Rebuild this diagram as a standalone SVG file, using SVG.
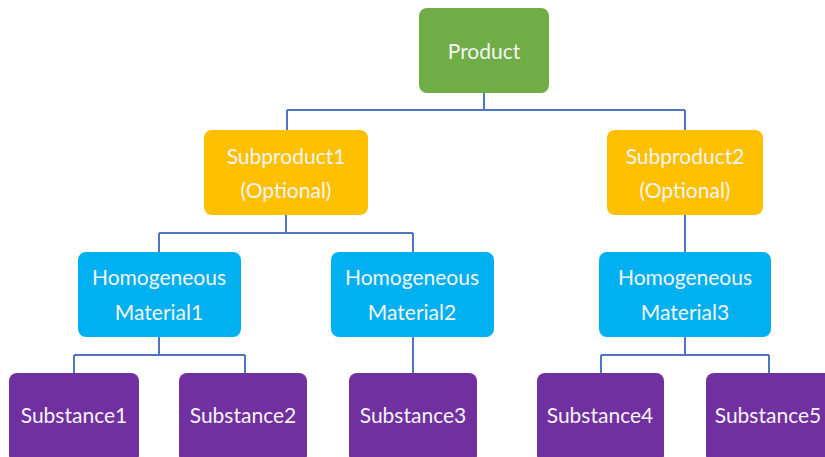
<svg xmlns="http://www.w3.org/2000/svg" width="825" height="457" viewBox="0 0 825 457">
<style>
.n{stroke:none}
.g{fill:#70AD47}.o{fill:#FFC000}.b{fill:#00B0F0}.p{fill:#7030A0}
text{font-family:Lato,"Open Sans","Liberation Sans",sans-serif;font-size:21px;fill:#F4F4F4;text-anchor:middle;dominant-baseline:central}
.c{fill:none;stroke:#4F76C2;stroke-width:2}
</style>
<rect width="825" height="457" fill="#FFFFFF"/>
<g id="connectors">
<path class="c" d="M484 93V110M287 110H685M287 110V130M685 110V130"/>
<path class="c" d="M286 215V233M159 233H413M159 233V252M413 233V252"/>
<path class="c" d="M685 215V252"/>
<path class="c" d="M159 337V355M74 355H245M74 355V374M245 355V374"/>
<path class="c" d="M413 337V374"/>
<path class="c" d="M685 337V355M601 355H769M601 355V374M769 355V374"/>
</g>
<g id="product"><rect class="g" x="419" y="8" width="130" height="85" rx="8"/><text x="484" y="50">Product</text></g>
<g id="subproduct1"><rect class="o" x="204" y="130" width="164" height="85" rx="8"/><text x="286" y="155">Subproduct1</text><text x="286" y="189">(Optional)</text></g>
<g id="subproduct2"><rect class="o" x="607" y="130" width="156" height="85" rx="8"/><text x="685" y="155">Subproduct2</text><text x="685" y="189">(Optional)</text></g>
<g id="hm1"><rect class="b" x="78" y="252" width="163" height="85" rx="8"/><text x="159" y="276">Homogeneous</text><text x="159" y="311">Material1</text></g>
<g id="hm2"><rect class="b" x="331" y="252" width="163" height="85" rx="8"/><text x="412" y="276">Homogeneous</text><text x="412" y="311">Material2</text></g>
<g id="hm3"><rect class="b" x="599" y="252" width="172" height="85" rx="8"/><text x="685" y="276">Homogeneous</text><text x="685" y="311">Material3</text></g>
<g id="substance1"><rect class="p" x="9" y="373" width="130" height="90" rx="8"/><text x="74" y="414">Substance1</text></g>
<g id="substance2"><rect class="p" x="179" y="373" width="128" height="90" rx="8"/><text x="243" y="414">Substance2</text></g>
<g id="substance3"><rect class="p" x="349" y="373" width="128" height="90" rx="8"/><text x="413" y="414">Substance3</text></g>
<g id="substance4"><rect class="p" x="537" y="373" width="127" height="90" rx="8"/><text x="600" y="414">Substance4</text></g>
<g id="substance5"><rect class="p" x="706" y="373" width="128" height="90" rx="8"/><text x="768" y="414">Substance5</text></g>
</svg>
